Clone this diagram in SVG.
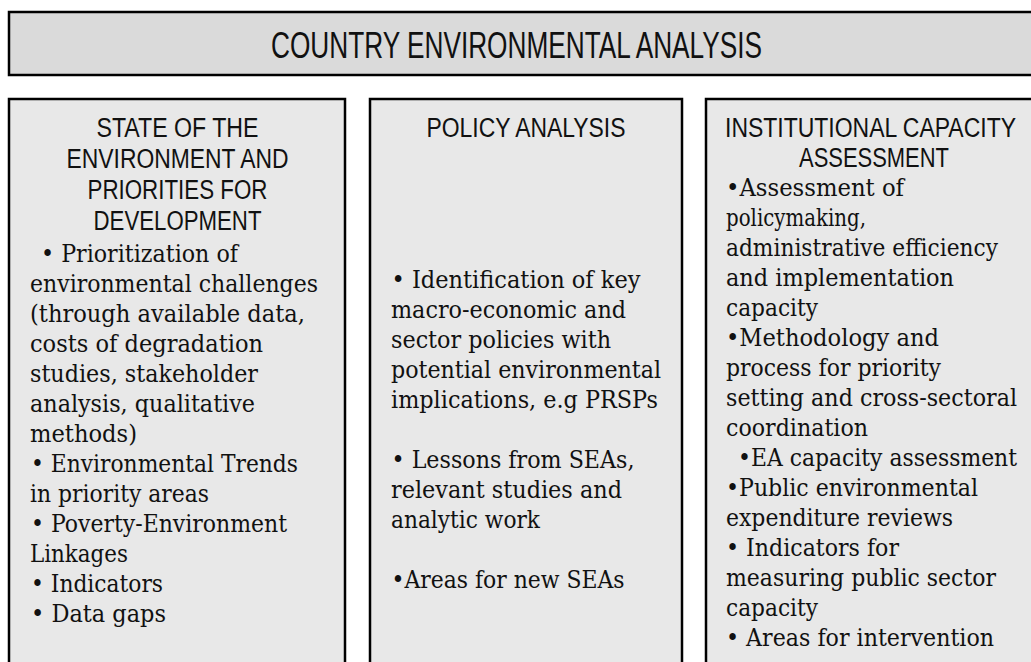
<svg xmlns="http://www.w3.org/2000/svg" width="1031" height="662" viewBox="0 0 1031 662">
<style>
.box{fill:#e8e8e8;stroke:#000;stroke-width:2.5}
.tbox{fill:#dadada;stroke:#000;stroke-width:2.5}
.t{font-family:"Liberation Sans Narrow","Liberation Sans",sans-serif;font-size:37px;fill:#111;text-anchor:middle}
.h{font-family:"Liberation Sans Narrow","Liberation Sans",sans-serif;font-size:27px;fill:#111;text-anchor:middle}
.b{font-family:"DejaVu Serif","Liberation Serif",serif;font-size:24px;fill:#111}
</style>
<rect width="1031" height="662" fill="#fff"/>
<g id="title">
<rect class="tbox" x="9" y="12" width="1040" height="63"/>
<text class="t" x="516.5" y="58" textLength="491" lengthAdjust="spacingAndGlyphs">COUNTRY ENVIRONMENTAL ANALYSIS</text>
</g>
<g id="state">
<rect class="box" x="9" y="99" width="336" height="600"/>
<text class="h" x="177.5" y="137" textLength="162" lengthAdjust="spacingAndGlyphs">STATE OF THE</text>
<text class="h" x="177.5" y="168" textLength="222" lengthAdjust="spacingAndGlyphs">ENVIRONMENT AND</text>
<text class="h" x="177.5" y="199" textLength="180" lengthAdjust="spacingAndGlyphs">PRIORITIES FOR</text>
<text class="h" x="177.5" y="230" textLength="168" lengthAdjust="spacingAndGlyphs">DEVELOPMENT</text>
<text class="b" x="41" y="261.7" textLength="197" lengthAdjust="spacingAndGlyphs">• Prioritization of</text>
<text class="b" x="30" y="291.7" textLength="288" lengthAdjust="spacingAndGlyphs">environmental challenges</text>
<text class="b" x="30" y="321.7" textLength="275" lengthAdjust="spacingAndGlyphs">(through available data,</text>
<text class="b" x="30" y="351.7" textLength="233" lengthAdjust="spacingAndGlyphs">costs of degradation</text>
<text class="b" x="30" y="381.7" textLength="228" lengthAdjust="spacingAndGlyphs">studies, stakeholder</text>
<text class="b" x="30" y="411.7" textLength="225" lengthAdjust="spacingAndGlyphs">analysis, qualitative</text>
<text class="b" x="30" y="441.7" textLength="107" lengthAdjust="spacingAndGlyphs">methods)</text>
<text class="b" x="31" y="471.7" textLength="267" lengthAdjust="spacingAndGlyphs">• Environmental Trends</text>
<text class="b" x="30" y="501.7" textLength="179" lengthAdjust="spacingAndGlyphs">in priority areas</text>
<text class="b" x="31" y="531.7" textLength="256" lengthAdjust="spacingAndGlyphs">• Poverty-Environment</text>
<text class="b" x="30" y="561.7" textLength="98" lengthAdjust="spacingAndGlyphs">Linkages</text>
<text class="b" x="31" y="591.7" textLength="132" lengthAdjust="spacingAndGlyphs">• Indicators</text>
<text class="b" x="31" y="621.7" textLength="135" lengthAdjust="spacingAndGlyphs">• Data gaps</text>
</g>
<g id="policy">
<rect class="box" x="370" y="99" width="312" height="600"/>
<text class="h" x="526" y="137" textLength="199" lengthAdjust="spacingAndGlyphs">POLICY ANALYSIS</text>
<text class="b" x="391.5" y="288" textLength="249" lengthAdjust="spacingAndGlyphs">• Identification of key</text>
<text class="b" x="391" y="318" textLength="235" lengthAdjust="spacingAndGlyphs">macro-economic and</text>
<text class="b" x="391" y="348" textLength="220" lengthAdjust="spacingAndGlyphs">sector policies with</text>
<text class="b" x="391" y="378" textLength="270" lengthAdjust="spacingAndGlyphs">potential environmental</text>
<text class="b" x="391" y="408" textLength="267" lengthAdjust="spacingAndGlyphs">implications, e.g PRSPs</text>
<text class="b" x="391.5" y="468" textLength="243" lengthAdjust="spacingAndGlyphs">• Lessons from SEAs,</text>
<text class="b" x="391" y="498" textLength="231" lengthAdjust="spacingAndGlyphs">relevant studies and</text>
<text class="b" x="391" y="528" textLength="149" lengthAdjust="spacingAndGlyphs">analytic work</text>
<text class="b" x="391.5" y="588" textLength="233" lengthAdjust="spacingAndGlyphs">•Areas for new SEAs</text>
</g>
<g id="institutional">
<rect class="box" x="706" y="99" width="340" height="600"/>
<text class="h" x="870.5" y="137" textLength="291" lengthAdjust="spacingAndGlyphs">INSTITUTIONAL CAPACITY</text>
<text class="h" x="874" y="167" textLength="150" lengthAdjust="spacingAndGlyphs">ASSESSMENT</text>
<text class="b" x="726" y="196" textLength="178" lengthAdjust="spacingAndGlyphs">•Assessment of</text>
<text class="b" x="726" y="226" textLength="140" lengthAdjust="spacingAndGlyphs">policymaking,</text>
<text class="b" x="726" y="256" textLength="272" lengthAdjust="spacingAndGlyphs">administrative efficiency</text>
<text class="b" x="726" y="286" textLength="228" lengthAdjust="spacingAndGlyphs">and implementation</text>
<text class="b" x="726" y="316" textLength="92" lengthAdjust="spacingAndGlyphs">capacity</text>
<text class="b" x="726" y="346" textLength="213" lengthAdjust="spacingAndGlyphs">•Methodology and</text>
<text class="b" x="726" y="376" textLength="215" lengthAdjust="spacingAndGlyphs">process for priority</text>
<text class="b" x="726" y="406" textLength="291" lengthAdjust="spacingAndGlyphs">setting and cross-sectoral</text>
<text class="b" x="726" y="436" textLength="142" lengthAdjust="spacingAndGlyphs">coordination</text>
<text class="b" x="738" y="466" textLength="279" lengthAdjust="spacingAndGlyphs">•EA capacity assessment</text>
<text class="b" x="726" y="496" textLength="252" lengthAdjust="spacingAndGlyphs">•Public environmental</text>
<text class="b" x="726" y="526" textLength="227" lengthAdjust="spacingAndGlyphs">expenditure reviews</text>
<text class="b" x="726" y="556" textLength="173" lengthAdjust="spacingAndGlyphs">• Indicators for</text>
<text class="b" x="726" y="586" textLength="270" lengthAdjust="spacingAndGlyphs">measuring public sector</text>
<text class="b" x="726" y="616" textLength="92" lengthAdjust="spacingAndGlyphs">capacity</text>
<text class="b" x="726" y="646" textLength="268" lengthAdjust="spacingAndGlyphs">• Areas for intervention</text>
</g>
<g id="connectors"/>
</svg>
